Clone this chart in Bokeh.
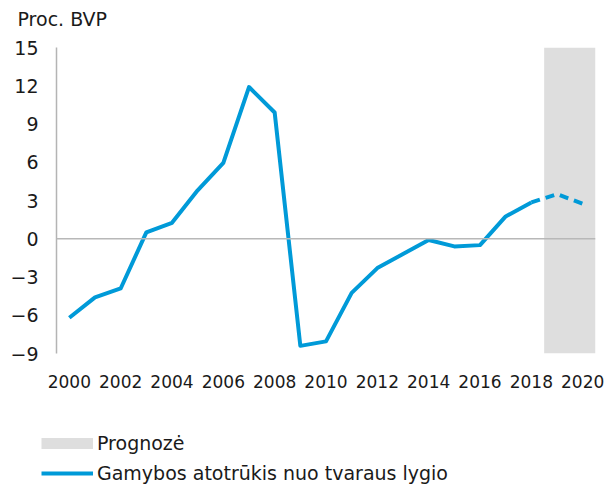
from bokeh.plotting import figure
from bokeh.layouts import column
from bokeh.models import Span, Legend, LegendItem, FixedTicker, Range1d, Label
from bokeh.embed import file_html
from bokeh.resources import INLINE

years = list(range(2000, 2021))
gap = [-6.2, -4.6, -3.9, 0.5, 1.25, 3.8, 5.95, 11.9, 9.9, -8.4, -8.05,
       -4.25, -2.3, -1.2, -0.1, -0.6, -0.5, 1.75, 2.85, 3.5, 2.75]
hist_years = years[:19]
hist_gap = gap[:19]
fc_years = years[18:]
fc_gap = gap[18:]
forecast_start = [2018.5]
forecast_end = [2020.5]
y_ticks = [-9, -6, -3, 0, 3, 6, 9, 12, 15]
x_ticks = list(range(2000, 2021, 2))
unit_label = "Proc. BVP"
legend_labels = ["Prognozė", "Gamybos atotrūkis nuo tvaraus lygio"]

FONT = "DejaVu Sans"
BLUE = "#009ad8"
GREY_BAND = "#dedede"
TXT = "#1a1a1a"
W = 606

# header strip with the unit label
hd = figure(width=W, height=36, output_backend="svg", toolbar_location=None,
            x_range=Range1d(0, 1), y_range=Range1d(0, 1),
            x_axis_location=None, y_axis_location=None, min_border=0)
hd.frame_align = False
hd.outline_line_color = None
hd.grid.grid_line_color = None
hd.add_layout(Label(x=17, y=17.5, x_units="screen", y_units="screen", text=unit_label,
                    text_font=FONT, text_font_size="19px", text_color=TXT,
                    text_baseline="middle", text_align="left"))

p = figure(width=W, height=364, output_backend="svg", toolbar_location=None, title=None,
           x_range=Range1d(1999.5, 2020.5), y_range=Range1d(-9, 15),
           min_border_left=56, min_border_right=11, min_border_top=11, min_border_bottom=47)
p.frame_align = False
p.outline_line_color = None
p.grid.grid_line_color = None

p.quad(left=forecast_start, right=forecast_end, bottom=[-9], top=[15],
       fill_color=GREY_BAND, line_color=None)
p.add_layout(Span(location=0, dimension="width", line_color="#b8b8b8", line_width=1.5))
p.line(hist_years, hist_gap, line_color=BLUE, line_width=4, line_join="round")
p.line(fc_years, fc_gap, line_color=BLUE, line_width=4, line_dash="9 6")

p.yaxis.ticker = FixedTicker(ticks=y_ticks)
p.yaxis.major_label_overrides = {t: (str(t).replace("-", "\u2212")) for t in y_ticks}
p.yaxis.axis_line_color = "#b4b4b4"
p.yaxis.axis_line_width = 1.5
p.yaxis.major_tick_line_color = None
p.yaxis.minor_tick_line_color = None
p.yaxis.major_label_standoff = 12
p.yaxis.major_label_text_font = FONT
p.yaxis.major_label_text_font_size = "19px"
p.yaxis.major_label_text_color = TXT

p.xaxis.ticker = FixedTicker(ticks=x_ticks)
p.xaxis.axis_line_color = None
p.xaxis.major_tick_line_color = None
p.xaxis.minor_tick_line_color = None
p.xaxis.major_label_standoff = 15
p.xaxis.major_label_text_font = FONT
p.xaxis.major_label_text_font_size = "17px"
p.xaxis.major_label_text_color = TXT

# legend in its own strip below the chart (sample glyphs drawn out of view)
lg = figure(width=W, height=86, output_backend="svg", toolbar_location=None,
            x_range=Range1d(0, 1), y_range=Range1d(0, 1),
            x_axis_location=None, y_axis_location=None, min_border=0)
lg.frame_align = False
lg.outline_line_color = None
lg.grid.grid_line_color = None
r_band = lg.line(x=hist_years, y=hist_gap, line_color=GREY_BAND, line_width=11, line_cap="butt")
r_line = lg.line(x=hist_years, y=hist_gap, line_color=BLUE, line_width=4)
legend = Legend(items=[LegendItem(label=legend_labels[0], renderers=[r_band]),
                       LegendItem(label=legend_labels[1], renderers=[r_line])],
                location=(41, 2), orientation="vertical",
                glyph_width=52, glyph_height=12, label_standoff=4, spacing=8,
                label_text_font=FONT, label_text_font_size="19px", label_text_color=TXT,
                border_line_color=None, background_fill_alpha=0, padding=0, margin=0)
lg.add_layout(legend)

layout = column(hd, p, lg, spacing=0)
open("out.html", "w").write(file_html(layout, INLINE))
